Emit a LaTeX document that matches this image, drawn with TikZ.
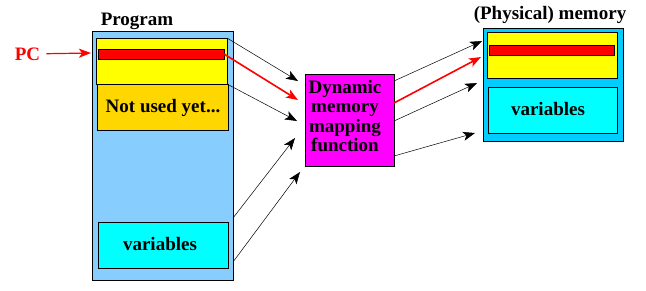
\documentclass[tikz,border=0pt]{standalone}
\usepackage{fontspec}
\setmainfont{Liberation Serif}
\usetikzlibrary{arrows.meta}
\definecolor{progblue}{HTML}{87CEFF}
\definecolor{memblue}{HTML}{00CCFF}
\definecolor{goldbox}{HTML}{FFD700}
\definecolor{cyanbox}{HTML}{00FFFF}
\definecolor{magbox}{HTML}{FF00FF}
\definecolor{redbox}{HTML}{FF0000}
\definecolor{yelbox}{HTML}{FFFF00}
\begin{document}
\begin{tikzpicture}[x=1pt,y=-1pt,
  box/.style={draw=black,line width=0.8pt,inner sep=0pt,outer sep=0pt},
  lbl/.style={font=\fontsize{19}{19.5}\selectfont\bfseries,inner sep=0pt,anchor=base},
  arr/.style={draw=black,line width=0.5pt,-{Stealth[length=12pt,width=9pt,inset=3pt]}},
  redarr/.style={draw=redbox,line width=1.6pt,-{Stealth[length=12pt,width=9pt,inset=3pt]}}]
\useasboundingbox (0,0) rectangle (646,290);
% Program
\node[box,fill=progblue,minimum width=141pt,minimum height=249pt] (prog) at (162.5,155.5) {};
\node[box,fill=yelbox,minimum width=131pt,minimum height=46pt] (pyel) at (161.5,61) {};
\node[box,fill=redbox,minimum width=126pt,minimum height=10pt] (pred) at (161,54) {};
\node[box,fill=goldbox,minimum width=131pt,minimum height=46pt] (pnot) at (162.5,107) {};
\node[box,fill=cyanbox,minimum width=130pt,minimum height=46pt] (pvar) at (163,245) {};
\node[lbl] (tprog) at (137,25) {Program};
\node[lbl] (tnot) at (163,112) {Not used yet...};
\node[lbl] (tpvar) at (160,250) {variables};
\node[lbl,text=redbox] (pc) at (27.5,60) {PC};
% Mapping function
\node[box,fill=magbox,minimum width=89pt,minimum height=92pt] (map) at (349.5,120) {};
\node[lbl,align=center,anchor=north] (tmap) at (345,80) {Dynamic\\memory\\mapping\\function};
% Physical memory
\node[box,fill=memblue,minimum width=140pt,minimum height=113pt] (mem) at (553,84.5) {};
\node[box,fill=yelbox,minimum width=130pt,minimum height=46pt] (myel) at (552,55) {};
\node[box,fill=redbox,minimum width=125pt,minimum height=10pt] (mred) at (551.5,50) {};
\node[box,fill=cyanbox,minimum width=129pt,minimum height=46pt] (mvar) at (552.5,110) {};
\node[lbl] (tmem) at (550,19) {(Physical) memory};
\node[lbl] (tmvar) at (548,115) {variables};
% tips
\coordinate (pcend) at (91,53);
\coordinate (a1) at (298,81);
\coordinate (a2) at (298,100);
\coordinate (a3) at (297,121);
\coordinate (a4) at (295,138);
\coordinate (a5) at (300,172);
\coordinate (s4) at (233,218);
\coordinate (s5) at (233,262);
\coordinate (m1) at (394,81);
\coordinate (m2) at (394,103);
\coordinate (m3) at (394,121);
\coordinate (m4) at (394,156);
\coordinate (b1) at (482,41);
\coordinate (b2) at (481,57);
\coordinate (b3) at (477,83);
\coordinate (b4) at (475,133);
% connectors
\draw[redarr,line width=1.2pt,shorten <=6pt] (pc.east) -- (pcend);
\draw[arr] (pyel.north east) -- (a1);
\draw[redarr] (pred.east) -- (a2);
\draw[arr] (pyel.south east) -- (a3);
\draw[arr] (s4) -- (a4);
\draw[arr] (s5) -- (a5);
\draw[arr] (m1) -- (b1);
\draw[redarr] (m2) -- (b2);
\draw[arr] (m3) -- (b3);
\draw[arr] (m4) -- (b4);
\end{tikzpicture}
\end{document}
